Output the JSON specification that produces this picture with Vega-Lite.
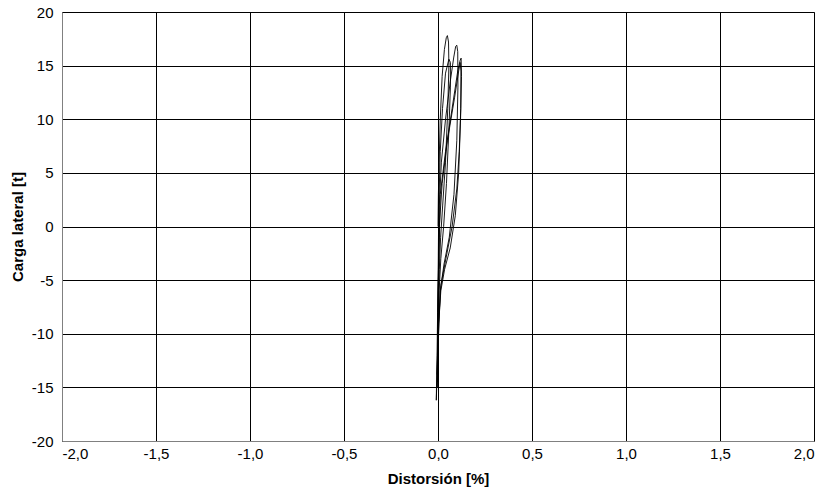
{
  "$schema": "https://vega.github.io/schema/vega-lite/v6.json",
  "width": 752,
  "height": 429,
  "autosize": {"type": "none"},
  "padding": {"left": 62, "top": 12, "right": 15, "bottom": 51},
  "background": "white",
  "config": {
    "view": {"stroke": "#808080", "strokeWidth": 1},
    "font": "Liberation Sans"
  },
  "data": {
    "values": [
      {"i": 0, "d": 0, "c": 0},
      {"i": 1, "d": 0.002, "c": 3},
      {"i": 2, "d": 0.006, "c": 6},
      {"i": 3, "d": 0.012, "c": 10},
      {"i": 4, "d": 0.022, "c": 14},
      {"i": 5, "d": 0.034, "c": 16.5},
      {"i": 6, "d": 0.044, "c": 17.6},
      {"i": 7, "d": 0.05, "c": 17.8},
      {"i": 8, "d": 0.056, "c": 17.2},
      {"i": 9, "d": 0.058, "c": 15},
      {"i": 10, "d": 0.052, "c": 11},
      {"i": 11, "d": 0.04, "c": 6},
      {"i": 12, "d": 0.025, "c": 2},
      {"i": 13, "d": 0.014, "c": -1},
      {"i": 14, "d": 0.007, "c": -4},
      {"i": 15, "d": 0.002, "c": -8},
      {"i": 16, "d": -0.003, "c": -12},
      {"i": 17, "d": -0.007, "c": -15},
      {"i": 18, "d": -0.009, "c": -16.2},
      {"i": 19, "d": -0.008, "c": -15},
      {"i": 20, "d": -0.005, "c": -12},
      {"i": 21, "d": -0.002, "c": -8},
      {"i": 22, "d": 0.001, "c": -4},
      {"i": 23, "d": 0.003, "c": 0},
      {"i": 24, "d": 0.006, "c": 3},
      {"i": 25, "d": 0.012, "c": 7},
      {"i": 26, "d": 0.024, "c": 11},
      {"i": 27, "d": 0.04, "c": 14.3},
      {"i": 28, "d": 0.058, "c": 15.6},
      {"i": 29, "d": 0.066, "c": 15.3},
      {"i": 30, "d": 0.066, "c": 13},
      {"i": 31, "d": 0.058, "c": 9},
      {"i": 32, "d": 0.045, "c": 4},
      {"i": 33, "d": 0.03, "c": 0},
      {"i": 34, "d": 0.015, "c": -3},
      {"i": 35, "d": 0.006, "c": -6},
      {"i": 36, "d": 0.0, "c": -10},
      {"i": 37, "d": -0.004, "c": -13.8},
      {"i": 38, "d": -0.003, "c": -13},
      {"i": 39, "d": 0.0, "c": -8},
      {"i": 40, "d": 0.003, "c": -3},
      {"i": 41, "d": 0.007, "c": 2},
      {"i": 42, "d": 0.018, "c": 6},
      {"i": 43, "d": 0.04, "c": 10},
      {"i": 44, "d": 0.065, "c": 13.5},
      {"i": 45, "d": 0.084, "c": 15.8},
      {"i": 46, "d": 0.094, "c": 16.8},
      {"i": 47, "d": 0.1, "c": 16.9},
      {"i": 48, "d": 0.105, "c": 16.3},
      {"i": 49, "d": 0.106, "c": 13},
      {"i": 50, "d": 0.1, "c": 8},
      {"i": 51, "d": 0.085, "c": 3},
      {"i": 52, "d": 0.06, "c": -1},
      {"i": 53, "d": 0.032, "c": -3.5},
      {"i": 54, "d": 0.012, "c": -6},
      {"i": 55, "d": 0.003, "c": -10},
      {"i": 56, "d": -0.002, "c": -14},
      {"i": 57, "d": -0.004, "c": -15},
      {"i": 58, "d": -0.003, "c": -13},
      {"i": 59, "d": 0.0, "c": -8},
      {"i": 60, "d": 0.004, "c": -3},
      {"i": 61, "d": 0.012, "c": 3},
      {"i": 62, "d": 0.04, "c": 7},
      {"i": 63, "d": 0.075, "c": 11},
      {"i": 64, "d": 0.105, "c": 14.5},
      {"i": 65, "d": 0.118, "c": 15.5},
      {"i": 66, "d": 0.123, "c": 15.7},
      {"i": 67, "d": 0.125, "c": 14},
      {"i": 68, "d": 0.12, "c": 10},
      {"i": 69, "d": 0.11, "c": 5},
      {"i": 70, "d": 0.092, "c": 1},
      {"i": 71, "d": 0.065, "c": -2},
      {"i": 72, "d": 0.035, "c": -4},
      {"i": 73, "d": 0.015, "c": -6},
      {"i": 74, "d": 0.004, "c": -9},
      {"i": 75, "d": 0.0, "c": -13},
      {"i": 76, "d": -0.002, "c": -14.5},
      {"i": 77, "d": -0.001, "c": -12},
      {"i": 78, "d": 0.002, "c": -6},
      {"i": 79, "d": 0.007, "c": 0},
      {"i": 80, "d": 0.022, "c": 4},
      {"i": 81, "d": 0.05, "c": 8},
      {"i": 82, "d": 0.088, "c": 12},
      {"i": 83, "d": 0.11, "c": 14.5},
      {"i": 84, "d": 0.118, "c": 15.3},
      {"i": 85, "d": 0.122, "c": 14.5},
      {"i": 86, "d": 0.121, "c": 11},
      {"i": 87, "d": 0.113, "c": 7},
      {"i": 88, "d": 0.1, "c": 3.5},
      {"i": 89, "d": 0.075, "c": 0},
      {"i": 90, "d": 0.042, "c": -3},
      {"i": 91, "d": 0.015, "c": -5.5},
      {"i": 92, "d": 0.003, "c": -9},
      {"i": 93, "d": -0.001, "c": -13},
      {"i": 94, "d": -0.001, "c": -10},
      {"i": 95, "d": 0.002, "c": -5},
      {"i": 96, "d": 0.005, "c": 0}
    ]
  },
  "mark": {"type": "line", "color": "black", "strokeWidth": 0.9, "clip": true},
  "encoding": {
    "order": {"field": "i", "type": "quantitative"},
    "x": {
      "field": "d",
      "type": "quantitative",
      "scale": {"domain": [-2, 2], "nice": false, "zero": false},
      "axis": {
        "title": "Distorsión [%]",
        "values": [-2, -1.5, -1, -0.5, 0, 0.5, 1, 1.5, 2],
        "labelExpr": "replace(replace(format(datum.value, '.1f'), '.', ','), '\u2212', '-')",
        "grid": true,
        "gridColor": "black",
        "gridOpacity": 1,
        "gridWidth": 1,
        "domainColor": "#808080",
        "ticks": false,
        "labelPadding": 5,
        "labelFontSize": 15,
        "labelColor": "black",
        "titleFontSize": 15,
        "titleFontWeight": "bold",
        "titleColor": "black",
        "titlePadding": 10
      }
    },
    "y": {
      "field": "c",
      "type": "quantitative",
      "scale": {"domain": [-20, 20], "nice": false, "zero": false},
      "axis": {
        "title": "Carga lateral [t]",
        "values": [-20, -15, -10, -5, 0, 5, 10, 15, 20],
        "labelExpr": "replace(format(datum.value, 'd'), '\u2212', '-')",
        "grid": true,
        "gridColor": "black",
        "gridOpacity": 1,
        "gridWidth": 1,
        "domainColor": "#808080",
        "ticks": false,
        "labelPadding": 9,
        "labelFontSize": 15,
        "labelColor": "black",
        "titleFontSize": 15,
        "titleFontWeight": "bold",
        "titleColor": "black",
        "titlePadding": 6
      }
    }
  }
}
